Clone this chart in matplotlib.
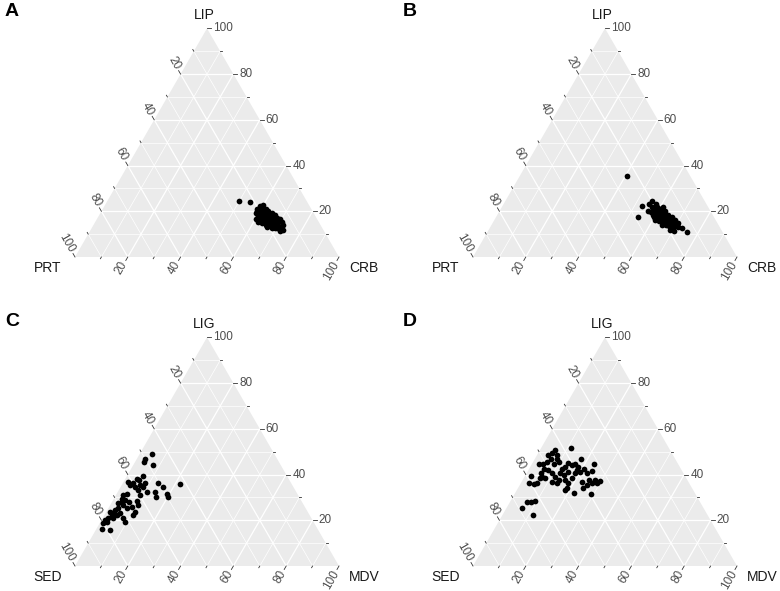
import numpy as np
import matplotlib
matplotlib.use("Agg")
import matplotlib.pyplot as plt

plt.rcParams['font.family'] = ['Liberation Sans', 'DejaVu Sans']

# ---- data (percentages, third component = 100 - the other two) ----
# Panel A: LIP (top), CRB (right), PRT (left)
a_lip = [24.4, 24.2, 21.2, 22.4, 22.7, 21.2, 19.1, 19.8, 20.5, 19.8, 20.1, 19.1, 18.3, 18.0, 18.3,
         18.0, 18.0, 17.6, 17.2, 16.6, 16.6, 16.6, 16.2, 16.6, 16.2, 15.7, 15.4, 15.1, 14.7, 14.7,
         14.3, 14.3, 14.0, 13.2, 11.8, 13.2, 12.8, 12.5, 12.2, 17.2, 18.6, 16.9, 15.4, 15.7, 15.4,
         19.1, 18.6, 17.2, 15.1, 13.7, 14.0, 21.2, 21.0, 20.1, 14.7, 13.7, 14.0, 11.3, 12.8, 16.2]
a_crb = [50.0, 54.0, 58.2, 58.9, 60.0, 61.7, 59.0, 59.9, 60.5, 62.1, 63.2, 65.0, 66.6, 60.4, 61.5,
         63.0, 64.2, 65.7, 67.8, 69.4, 60.3, 61.8, 63.3, 64.3, 65.8, 67.3, 69.3, 70.7, 63.4, 64.6,
         66.5, 67.8, 69.4, 71.0, 73.0, 66.2, 68.1, 69.5, 71.6, 62.8, 64.6, 66.7, 65.2, 68.5, 61.7,
         61.6, 63.0, 65.0, 67.3, 70.2, 71.9, 59.7, 61.1, 59.0, 68.8, 67.3, 65.2, 72.0, 70.0, 65.2]

# Panel B: LIP (top), CRB (right), PRT (left)
b_lip = [35.5, 22.1, 17.5, 24.6, 23.1, 23.4, 21.7, 20.2, 19.9, 20.7, 21.4, 21.7, 20.2, 19.2, 18.5,
         19.2, 18.5, 18.5, 17.0, 16.7, 17.3, 17.0, 17.7, 16.3, 16.3, 15.6, 15.3, 15.6, 15.3, 14.8,
         14.8, 14.1, 13.8, 13.4, 13.0, 13.0, 12.7, 10.9, 11.5, 11.9, 17.7, 20.2, 17.0, 18.2, 14.1,
         14.8, 21.7, 17.7]
b_crb = [40.5, 52.8, 53.7, 55.4, 57.6, 55.0, 57.1, 56.1, 57.5, 58.6, 59.5, 61.3, 62.6, 60.0, 61.6,
         62.5, 64.5, 59.1, 61.4, 63.1, 64.1, 65.5, 66.4, 68.4, 60.8, 62.7, 64.5, 65.6, 67.4, 68.9,
         70.4, 64.4, 66.1, 67.6, 69.4, 71.1, 72.7, 75.5, 70.2, 68.7, 61.3, 61.1, 64.9, 63.4, 70.1,
         66.6, 58.7, 59.8]

# Panel C: LIG (top), MDV (right), SED (left)
c_lig = [49.2, 47.0, 45.6, 44.1, 39.4, 38.0, 37.5, 36.8, 35.4, 36.1, 34.6, 35.4, 34.6, 36.1, 32.5,
         33.2, 31.0, 36.1, 34.6, 32.5, 30.3, 31.7, 30.3, 35.7, 31.7, 31.0, 29.5, 28.8, 27.8, 28.4,
         26.6, 25.9, 23.7, 22.3, 19.3, 20.8, 25.2, 24.4, 23.0, 22.3, 23.7, 22.3, 23.0, 20.8, 20.1,
         18.6, 16.4, 15.7, 28.1, 27.4, 20.8, 19.4, 25.2, 26.6]
c_mdv = [4.5, 3.0, 3.4, 7.4, 5.9, 4.4, 5.6, 1.8, 3.2, 3.8, 5.4, 6.9, 8.6, 8.5, 10.9,
         7.4, 9.1, 13.5, 16.2, 14.1, 15.6, 18.9, 20.2, 21.9, 3.7, 2.8, 2.9, 4.5, 6.7, 9.2,
         10.7, 8.5, 10.9, 11.0, 9.3, 7.9, 3.8, 2.9, 3.0, 2.8, 1.4, 4.7, 5.6, 2.2, 1.3,
         1.4, 1.9, 5.4, 3.6, 2.7, 4.1, 2.3, 7.0, 5.0]

# Panel D: LIG (top), MDV (right), SED (left)
d_lig = [51.4, 50.7, 49.5, 48.5, 48.5, 47.0, 47.0, 45.6, 44.8, 45.6, 44.8, 44.5, 42.6, 41.9, 40.5,
         40.5, 39.0, 39.0, 37.8, 36.4, 36.8, 40.5, 39.7, 41.2, 43.4, 45.1, 44.1, 44.8, 43.1, 47.0,
         41.2, 42.6, 40.5, 44.5, 41.6, 40.5, 38.3, 37.5, 36.4, 37.8, 37.5, 37.3, 36.1, 36.1, 35.4,
         33.9, 33.9, 33.2, 32.0, 31.7, 39.3, 36.4, 35.8, 36.4, 38.3, 28.1, 28.5, 28.1, 25.2, 22.3,
         38.3, 36.8, 42.2, 42.6]
d_mdv = [11.4, 5.7, 5.3, 7.5, 4.3, 6.0, 8.2, 9.6, 8.4, 5.1, 4.2, 2.7, 5.7, 7.6, 9.6,
         5.5, 6.8, 11.6, 13.7, 13.5, 11.7, 12.7, 14.7, 15.5, 13.2, 13.6, 15.3, 16.2, 18.1, 17.4,
         20.0, 20.9, 22.8, 23.7, 24.4, 18.4, 18.2, 16.1, 17.9, 25.0, 27.5, 29.5, 28.8, 26.9, 25.4,
         24.9, 18.5, 18.3, 22.4, 28.9, 2.3, 3.0, 5.3, 5.9, 6.2, 7.9, 9.2, 6.3, 6.1, 11.7,
         8.1, 22.8, 18.2, 12.3]

panels = [
    ("A", ("LIP", "PRT", "CRB"), a_lip, a_crb),
    ("B", ("LIP", "PRT", "CRB"), b_lip, b_crb),
    ("C", ("LIG", "SED", "MDV"), c_lig, c_mdv),
    ("D", ("LIG", "SED", "MDV"), d_lig, d_mdv),
]

H = np.sqrt(3) / 2
W_PX = 264.0
FIG_W, FIG_H = 780, 591
# triangle bounding boxes in pixels: (left, bottom)
boxes = [(75, 257), (473, 257), (75, 566), (473, 566)]


def to_xy(top, right):
    t = np.asarray(top) / 100.0
    r = np.asarray(right) / 100.0
    return r + 0.5 * t, t * H


fig = plt.figure(figsize=(7.8, 5.91), dpi=100)

tick_col = "#333333"
lab_col = "#4d4d4d"
tl = 4 / W_PX
gap = 2 / W_PX

for (letter, names, top, right), (bx, by) in zip(panels, boxes):
    ax = fig.add_axes([bx / FIG_W, (FIG_H - by) / FIG_H, W_PX / FIG_W, W_PX * H / FIG_H])
    ax.set_xlim(0, 1)
    ax.set_ylim(0, H)
    ax.axis("off")

    ax.fill([0, 1, 0.5], [0, 0, H], color="#ebebeb", lw=0, zorder=0)

    # grid
    for i in range(1, 10):
        f = i / 10
        lw = 0.9 if i % 2 == 0 else 0.5
        kw = dict(color="white", lw=lw, zorder=1, solid_capstyle="butt")
        ax.plot([0.5 * f, 1 - 0.5 * f], [f * H, f * H], **kw)
        ax.plot([f, f + 0.5 * (1 - f)], [0, (1 - f) * H], **kw)
        ax.plot([1 - f, 0.5 * (1 - f)], [0, (1 - f) * H], **kw)

    # ticks and labels
    dirs = {
        "top": (1.0, 0.0),
        "left": (-0.5, H),
        "right": (-0.5, -H),
    }
    for v in range(10, 101, 10):
        f = v / 100
        major = v % 20 == 0
        L = tl if major else tl * 0.5
        # top axis on right edge
        px, py = 1 - 0.5 * f, f * H
        dx, dy = dirs["top"]
        ax.plot([px, px + L * dx], [py, py + L * dy], color=tick_col, lw=0.6, clip_on=False)
        if major:
            ax.text(px + (L + gap) * dx, py, str(v), color=lab_col, fontsize=8.5,
                    ha="left", va="center", clip_on=False)
        # left axis on left edge
        px, py = 0.5 * (1 - f), (1 - f) * H
        dx, dy = dirs["left"]
        ax.plot([px, px + L * dx], [py, py + L * dy], color=tick_col, lw=0.6, clip_on=False)
        if major:
            ax.text(px + (L + gap) * dx, py + (L + gap) * dy, str(v), color=lab_col, fontsize=8.5,
                    rotation=-60, rotation_mode="anchor", ha="right", va="center", clip_on=False)
        # right axis on bottom edge
        px, py = f, 0
        dx, dy = dirs["right"]
        ax.plot([px, px + L * dx], [py, py + L * dy], color=tick_col, lw=0.6, clip_on=False)
        if major:
            ax.text(px + (L + gap) * dx, py + (L + gap) * dy, str(v), color=lab_col, fontsize=8.5,
                    rotation=60, rotation_mode="anchor", ha="right", va="center", clip_on=False)

    # axis titles
    ax.text(0.5 - 3 / W_PX, H + 13 / W_PX, names[0], fontsize=10, color="#1a1a1a",
            ha="center", va="center", clip_on=False)
    ax.text(-27 / W_PX, -11 / W_PX, names[1], fontsize=10, color="#1a1a1a",
            ha="center", va="center", clip_on=False)
    ax.text(1 + 25 / W_PX, -11 / W_PX, names[2], fontsize=10, color="#1a1a1a",
            ha="center", va="center", clip_on=False)

    x, y = to_xy(top, right)
    ax.scatter(x, y, s=17, color="black", lw=0, zorder=3, clip_on=False)

    fig.text((bx - 63) / FIG_W, 1 - (by - 245) / FIG_H, letter, fontsize=14,
             fontweight="bold", ha="center", va="center")

fig.savefig("out.png", dpi=100)
